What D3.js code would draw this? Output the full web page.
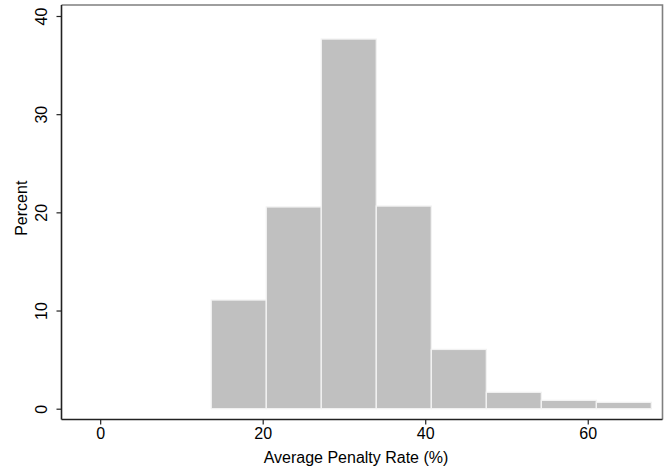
<!DOCTYPE html>
<html>
<head>
<meta charset="utf-8">
<script src="https://cdn.jsdelivr.net/npm/d3@7"></script>
<style>
  html, body { margin: 0; padding: 0; background: #fff; }
  svg { display: block; font-family: "Liberation Sans", Arial, sans-serif; }
</style>
</head>
<body>
<svg id="chart" width="672" height="472"></svg>
<script>
// Data
const binEdges = [13.67, 20.44, 27.21, 33.98, 40.75, 47.52, 54.29, 61.06, 67.83];
const percents = [11.07, 20.55, 37.65, 20.64, 6.04, 1.67, 0.85, 0.65];
const xTicks = [0, 20, 40, 60];
const yTicks = [0, 10, 20, 30, 40];
const xLabel = "Average Penalty Rate (%)";
const yLabel = "Percent";

const svg = d3.select("#chart");
const L = 61.5, R = 662.5, T = 5, B = 419.5;

const x = d3.scaleLinear().domain([-4.76, 69.2]).range([L, R]);
const y = d3.scaleLinear().domain([-1.1, 41.12]).range([B, T]);

const bins = percents.map((p, i) => ({ x0: binEdges[i], x1: binEdges[i + 1], v: p }));

// bars
svg.append("g").selectAll("rect").data(bins).join("rect")
  .attr("x", d => x(d.x0))
  .attr("y", d => y(d.v))
  .attr("width", d => x(d.x1) - x(d.x0))
  .attr("height", d => y(0) - y(d.v))
  .attr("fill", "#c0c0c0")
  .attr("stroke", "#f2f2f2")
  .attr("stroke-width", 1.3);

// frame top/right
svg.append("path")
  .attr("d", `M${L},${T}H${R}V${B}`)
  .attr("fill", "none")
  .attr("stroke", "#7f7f7f")
  .attr("stroke-width", 1.6);

// x axis
const xAxis = d3.axisBottom(x).tickValues(xTicks).tickSize(5).tickPadding(3).tickFormat(d3.format("d"));
const gx = svg.append("g").attr("transform", `translate(0,${B})`).call(xAxis);
gx.select(".domain").attr("d", `M${L},0H${R}`).attr("stroke", "#222").attr("stroke-width", 1.6);
gx.selectAll(".tick line").attr("stroke", "#222").attr("stroke-width", 1.2);
gx.selectAll(".tick text").attr("font-size", 16).attr("fill", "#000")
  .attr("font-family", "'Liberation Sans', Arial, sans-serif");

// y axis
const yAxis = d3.axisLeft(y).tickValues(yTicks).tickSize(5).tickFormat(d3.format("d"));
const gy = svg.append("g").attr("transform", `translate(${L},0)`).call(yAxis);
gy.select(".domain").attr("d", `M0,${T}V${B}`).attr("stroke", "#222").attr("stroke-width", 1.6);
gy.selectAll(".tick line").attr("stroke", "#222").attr("stroke-width", 1.2);
gy.selectAll(".tick text")
  .attr("font-size", 16).attr("fill", "#000")
  .attr("font-family", "'Liberation Sans', Arial, sans-serif")
  .attr("x", null).attr("dy", null)
  .attr("text-anchor", "middle")
  .attr("transform", "translate(-15,0) rotate(-90)");

// axis titles
svg.append("text")
  .attr("x", 356).attr("y", 463)
  .attr("text-anchor", "middle")
  .attr("font-size", 16)
  .attr("fill", "#000")
  .text(xLabel);

svg.append("text")
  .attr("transform", `translate(27,${(T + B) / 2 - 4}) rotate(-90)`)
  .attr("text-anchor", "middle")
  .attr("font-size", 16)
  .attr("fill", "#000")
  .text(yLabel);
</script>
</body>
</html>
